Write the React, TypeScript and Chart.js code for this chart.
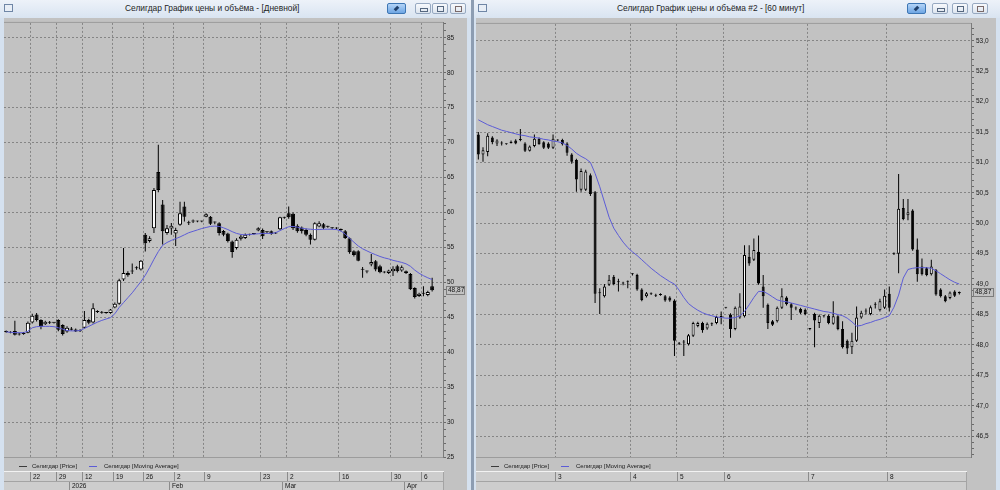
import React, { useEffect, useRef } from 'react';
import { Chart, registerables } from 'chart.js';

Chart.register(...registerables);

const FONT = '"Liberation Sans", Arial, "DejaVu Sans", sans-serif';
const MA_COLOR = '#5c5cd6';
const GRID_COLOR = '#858585';
const BG = '#c2c2c2';

// ---------- Daily chart ("Дневной") ----------
const dOpen = [42.9, 42.85, 43.05, 42.6, 42.6, 42.8, 44.25, 45.4, 44.6, 44.0, 44.2, 44.25, 44.6, 43.9, 42.97, 43.4, 43.25, 43.0, 43.5, 44.6, 44.25, 45.8, 45.7, 45.65, 45.6, 46.4, 46.95, 50.4, 51.35, 51.55, 52.0, 51.85, 56.8, 55.9, 57.75, 65.8, 61.15, 57.05, 57.7, 57.0, 58.25, 60.85, 58.45, 58.7, 58.75, 58.7, 59.4, 59.4, 58.6, 58.45, 57.35, 57.0, 55.85, 54.9, 56.25, 56.35, 56.8, 56.9, 57.4, 57.5, 57.2, 57.3, 57.0, 57.6, 59.3, 59.9, 59.8, 58.1, 57.85, 57.5, 56.8, 56.1, 58.0, 58.3, 58.0, 57.8, 57.75, 57.55, 57.3, 56.3, 54.45, 54.45, 51.8, 51.6, 52.55, 53.0, 52.3, 51.45, 51.35, 51.6, 52.3, 51.7, 51.6, 51.2, 49.2, 48.05, 48.35, 48.2, 49.45];
const dHigh = [43.1, 43.0, 44.5, 42.8, 42.9, 44.4, 45.5, 45.6, 44.7, 44.5, 44.45, 44.3, 44.7, 44.0, 43.7, 43.6, 43.4, 43.3, 45.9, 44.8, 47.0, 46.0, 45.9, 45.7, 46.2, 47.1, 50.5, 54.9, 51.6, 52.7, 52.3, 53.2, 57.05, 56.6, 63.5, 69.7, 61.8, 58.2, 58.5, 57.8, 61.55, 61.55, 58.8, 59.0, 58.8, 58.8, 59.9, 59.5, 58.7, 58.6, 57.5, 57.1, 56.0, 56.3, 56.8, 57.0, 56.95, 57.0, 57.9, 57.7, 57.3, 57.4, 57.2, 59.4, 59.4, 60.85, 60.0, 58.3, 58.0, 57.7, 57.0, 58.6, 58.75, 58.5, 58.1, 57.9, 57.9, 57.7, 57.5, 56.4, 54.6, 54.6, 52.2, 51.7, 54.05, 53.2, 52.5, 51.6, 51.8, 52.3, 52.5, 52.4, 51.7, 51.35, 49.3, 48.5, 49.45, 48.8, 50.65];
const dLow = [42.8, 42.7, 42.4, 42.4, 42.5, 42.7, 44.1, 44.4, 43.3, 43.9, 44.05, 44.1, 43.0, 42.4, 42.8, 43.1, 42.9, 42.9, 43.4, 44.0, 44.1, 45.6, 45.5, 45.5, 45.5, 46.3, 46.8, 50.2, 50.8, 51.2, 51.8, 51.7, 54.4, 55.7, 57.05, 62.9, 55.4, 56.8, 56.8, 55.2, 58.1, 58.7, 58.2, 58.5, 58.6, 58.6, 59.3, 58.2, 58.3, 56.7, 56.6, 55.7, 53.5, 54.7, 56.0, 56.2, 56.7, 56.8, 57.3, 56.2, 57.0, 56.8, 56.9, 57.5, 59.1, 59.1, 57.5, 57.1, 57.0, 56.6, 55.4, 56.0, 57.9, 57.6, 57.8, 57.6, 57.6, 57.3, 56.2, 54.1, 53.7, 53.0, 50.65, 51.3, 52.3, 51.6, 51.3, 51.3, 51.2, 50.9, 51.4, 51.5, 51.2, 48.9, 47.7, 47.9, 48.0, 48.0, 48.7];
const dClose = [43.0, 42.8, 42.5, 42.55, 42.7, 44.2, 45.2, 44.6, 43.65, 44.35, 44.25, 44.2, 43.2, 42.6, 43.5, 43.2, 42.97, 43.1, 44.6, 44.2, 46.3, 45.75, 45.65, 45.6, 46.1, 46.95, 50.3, 51.35, 51.0, 51.6, 52.05, 53.1, 55.6, 56.3, 63.2, 63.2, 57.3, 57.75, 58.1, 57.5, 59.9, 59.4, 58.5, 58.75, 58.7, 58.7, 59.75, 58.4, 58.55, 57.05, 56.8, 55.9, 54.35, 56.1, 56.55, 56.8, 56.85, 56.95, 57.75, 56.6, 57.15, 56.9, 57.05, 59.3, 59.25, 59.3, 57.75, 57.3, 57.3, 56.8, 56.1, 58.45, 58.45, 57.8, 57.95, 57.75, 57.7, 57.5, 56.35, 54.3, 53.9, 53.1, 51.85, 51.55, 52.9, 51.85, 51.45, 51.4, 51.7, 51.95, 51.6, 52.15, 51.35, 49.0, 47.9, 48.35, 48.4, 48.6, 48.87];
const dMA = [42.9, 42.85, 42.8, 42.8, 42.8, 43.0, 43.5, 43.65, 43.7, 43.7, 43.7, 43.65, 43.5, 43.3, 43.1, 43.05, 43.05, 43.1, 43.4, 43.7, 44.0, 44.3, 44.55, 44.75, 44.95, 45.5, 46.4, 47.1, 47.8, 48.5, 49.3, 50.1, 51.0, 52.1, 53.3, 54.4, 55.3, 55.7, 56.0, 56.25, 56.5, 56.8, 57.1, 57.3, 57.5, 57.7, 57.85, 58.0, 58.05, 58.0, 57.8, 57.55, 57.25, 57.0, 56.85, 56.8, 56.85, 56.9, 56.95, 57.0, 57.0, 57.0, 57.1, 57.4, 57.7, 57.95, 58.0, 57.9, 57.75, 57.65, 57.6, 57.55, 57.55, 57.6, 57.6, 57.6, 57.55, 57.35, 56.9, 56.3, 55.75, 55.2, 54.8, 54.5, 54.2, 53.95, 53.7, 53.5, 53.35, 53.15, 53.0, 52.85, 52.65, 52.3, 51.75, 51.3, 50.95, 50.65, 50.4];
const dWeekIdx = [6, 12, 18, 25, 32, 39, 46, 59, 65, 77, 89, 96];
const dWeekLabels = ['22', '29', '12', '19', '26', '2', '9', '23', '2', '16', '30', '6'];
const dMonthIdx = [15, 38, 64, 92];
const dMonthLabels = ['2026', 'Feb', 'Mar', 'Apr'];

// ---------- Hourly chart ("60 минут") ----------
const hOpen = [51.46, 51.13, 51.17, 51.41, 51.31, 51.32, 51.3, 51.32, 51.36, 51.37, 51.31, 51.19, 51.27, 51.39, 51.33, 51.31, 51.24, 51.37, 51.37, 51.31, 51.13, 51.04, 50.55, 50.55, 50.79, 50.51, 48.85, 48.8, 48.99, 49.12, 49.03, 49.01, 49.04, 49.16, 49.15, 48.91, 48.8, 48.84, 48.82, 48.83, 48.8, 48.78, 48.73, 48.02, 48.04, 48.01, 48.15, 48.31, 48.36, 48.27, 48.34, 48.36, 48.46, 48.61, 48.5, 48.26, 48.45, 48.47, 49.45, 49.4, 49.53, 48.96, 48.66, 48.39, 48.39, 48.61, 48.78, 48.67, 48.6, 48.59, 48.58, 48.26, 48.51, 48.36, 48.47, 48.48, 48.35, 48.47, 48.26, 48.07, 47.96, 48.07, 48.45, 48.55, 48.51, 48.66, 48.57, 48.61, 48.84, 49.5, 49.5, 50.25, 50.13, 50.21, 49.57, 49.29, 49.26, 49.16, 49.23, 48.91, 48.8, 48.77, 48.88, 48.85];
const hHigh = [51.5, 51.25, 51.48, 51.43, 51.38, 51.35, 51.31, 51.36, 51.38, 51.55, 51.33, 51.28, 51.46, 51.41, 51.35, 51.33, 51.46, 51.38, 51.39, 51.33, 51.15, 51.06, 50.9, 50.88, 50.82, 50.53, 48.93, 49.0, 49.15, 49.15, 49.09, 49.04, 49.06, 49.18, 49.17, 48.93, 48.87, 48.86, 48.84, 48.85, 48.82, 48.8, 48.75, 48.05, 48.08, 48.18, 48.38, 48.38, 48.38, 48.37, 48.37, 48.48, 48.55, 48.62, 48.52, 48.63, 48.85, 49.64, 49.64, 49.75, 49.8, 49.15, 48.68, 48.41, 48.63, 48.93, 48.8, 48.69, 48.63, 48.61, 48.6, 48.28, 48.53, 48.5, 48.49, 48.5, 48.72, 48.49, 48.39, 48.09, 48.2, 48.63, 48.56, 48.6, 48.65, 48.7, 48.76, 48.91, 48.96, 49.52, 50.81, 50.4, 50.4, 50.23, 49.75, 49.42, 49.28, 49.4, 49.25, 48.93, 48.82, 48.88, 48.9, 48.88];
const hLow = [51.05, 51.01, 51.1, 51.3, 51.27, 51.28, 51.29, 51.31, 51.3, 51.35, 51.17, 51.18, 51.25, 51.29, 51.22, 51.22, 51.22, 51.35, 51.28, 51.11, 50.98, 50.52, 50.52, 50.53, 50.45, 48.69, 48.51, 48.78, 48.97, 48.98, 48.88, 48.98, 48.93, 49.14, 48.89, 48.72, 48.78, 48.82, 48.79, 48.81, 48.71, 48.71, 47.82, 48.0, 47.82, 47.99, 48.13, 48.29, 48.2, 48.25, 48.31, 48.34, 48.34, 48.6, 48.12, 48.24, 48.43, 48.45, 49.3, 49.38, 48.99, 48.61, 48.26, 48.31, 48.37, 48.59, 48.65, 48.41, 48.57, 48.51, 48.49, 48.24, 47.96, 48.28, 48.45, 48.34, 48.33, 48.24, 47.94, 47.85, 47.85, 48.05, 48.43, 48.5, 48.49, 48.6, 48.55, 48.59, 48.55, 49.48, 49.18, 50.05, 50.05, 49.55, 49.04, 49.14, 49.13, 49.14, 48.81, 48.78, 48.7, 48.75, 48.79, 48.83];
const hClose = [51.13, 51.2, 51.44, 51.33, 51.36, 51.31, 51.3, 51.34, 51.31, 51.38, 51.19, 51.26, 51.39, 51.3, 51.24, 51.24, 51.39, 51.36, 51.3, 51.16, 51.01, 50.72, 50.86, 50.85, 50.48, 48.84, 48.86, 48.96, 49.07, 49.0, 49.03, 49.02, 49.05, 49.16, 48.91, 48.74, 48.85, 48.84, 48.81, 48.82, 48.73, 48.73, 48.07, 48.03, 48.04, 48.16, 48.36, 48.36, 48.24, 48.35, 48.34, 48.46, 48.46, 48.61, 48.26, 48.61, 48.63, 49.48, 49.34, 49.56, 49.01, 48.8, 48.36, 48.33, 48.61, 48.8, 48.67, 48.61, 48.6, 48.53, 48.51, 48.26, 48.4, 48.48, 48.47, 48.36, 48.47, 48.26, 47.96, 47.94, 48.07, 48.45, 48.53, 48.55, 48.62, 48.66, 48.72, 48.81, 48.61, 49.5, 50.24, 50.07, 50.18, 49.57, 49.16, 49.16, 49.15, 49.29, 48.83, 48.8, 48.72, 48.86, 48.81, 48.87];
const hMA = [51.7, 51.66, 51.62, 51.59, 51.56, 51.53, 51.51, 51.49, 51.47, 51.45, 51.44, 51.42, 51.41, 51.4, 51.38, 51.37, 51.35, 51.34, 51.32, 51.28, 51.22, 51.15, 51.1, 51.06, 51.0, 50.82, 50.6, 50.35, 50.1, 49.92, 49.8, 49.69, 49.6, 49.53, 49.47, 49.4, 49.33, 49.26, 49.2, 49.14, 49.09, 49.04, 49.0, 48.9, 48.78, 48.68, 48.62, 48.57, 48.53, 48.5, 48.48, 48.46, 48.45, 48.44, 48.44, 48.45, 48.48, 48.55, 48.66, 48.78, 48.88, 48.88, 48.84, 48.79, 48.74, 48.72, 48.71, 48.69, 48.67, 48.65, 48.63, 48.61, 48.59, 48.57, 48.55, 48.54, 48.52, 48.5, 48.48, 48.44, 48.38, 48.31, 48.32, 48.35, 48.37, 48.4, 48.42, 48.45, 48.48, 48.62, 48.82, 49.1, 49.24, 49.26, 49.27, 49.27, 49.27, 49.26, 49.22, 49.17, 49.12, 49.07, 49.03, 49.0];
const hDayIdx = [17, 33, 43, 53, 71, 88];
const hDayLabels = ['3', '4', '5', '6', '7', '8'];

type PanelProps = {
  width: number;
  height: number;
  slots: number;
  open: number[];
  high: number[];
  low: number[];
  close: number[];
  ma: number[];
  yMin: number;
  yMax: number;
  minorStep: number;
  majorStep: number;
  decimals: number;
  axisWidth: number;
  labelPad: number;
  bodyWidth: number;
  row1Idx: number[];
  row1Labels: string[];
  row2Idx: number[];
  row2Labels: string[];
  boxX: number;
  boxW: number;
  rowsRight: number;
};

function CandlePanel(p: PanelProps) {
  const ref = useRef<HTMLCanvasElement | null>(null);
  useEffect(() => {
    const canvas = ref.current;
    if (!canvas) return;
    const labels = Array.from({ length: p.slots }, (_, i) => String(i));
    const wick = p.high.map((h, i) => [p.low[i], h]);
    const body = p.open.map((o, i) => [o, p.close[i]]);
    const bodyColors = p.open.map((o, i) => (p.close[i] >= o ? '#ffffff' : '#000000'));
    const gridIdx = new Set(p.row1Idx);
    const isMajor = (v: number) => Math.abs(v / p.majorStep - Math.round(v / p.majorStep)) < 1e-6;
    const fmt = (v: number, d: number) => v.toFixed(d).replace('.', ',');
    const smallFont = `6.5px ${FONT}`;

    const stripPlugin = {
      id: 'strip',
      afterDraw(chart: any) {
        const { ctx, chartArea: a, scales } = chart;
        const xs = scales.x;
        const ys = scales.y;
        const slot = xs.getPixelForValue(1) - xs.getPixelForValue(0);
        const rr = a.right - p.rowsRight;
        ctx.save();
        ctx.fillStyle = '#9c9c9c';
        ctx.fillRect(a.left, a.top - 1, a.right - a.left, 1);
        ctx.fillRect(a.left, a.bottom, a.right - a.left, 1);

        // legend
        const ly = a.bottom + 9.5;
        ctx.font = `6px ${FONT}`;
        ctx.textBaseline = 'middle';
        ctx.textAlign = 'left';
        ctx.fillStyle = '#3c3c3c';
        ctx.fillRect(15, Math.floor(ly), 8, 1);
        ctx.fillStyle = '#1a1a1a';
        ctx.fillText('Селигдар [Price]', 28, ly);
        ctx.fillStyle = MA_COLOR;
        ctx.fillRect(85, Math.floor(ly), 8, 1);
        ctx.fillStyle = '#1a1a1a';
        ctx.fillText('Селигдар [Moving Average]', 100, ly);

        // date rows
        const top1 = a.bottom + 15;
        const top2 = a.bottom + 24;
        const bottom = chart.height;
        ctx.fillStyle = '#cdcdcd';
        ctx.fillRect(0, top1, rr, bottom - top1);
        ctx.fillStyle = '#f2f2f2';
        ctx.fillRect(0, top1 - 1, rr + 1, 1);
        ctx.fillStyle = '#a4a4a4';
        ctx.fillRect(0, top2, rr, 1);
        ctx.fillRect(rr, top1, 1, bottom - top1);
        ctx.font = smallFont;
        p.row1Idx.forEach((idx, k) => {
          const x = Math.round(xs.getPixelForValue(idx) - slot / 2);
          ctx.fillStyle = '#8c8c8c';
          ctx.fillRect(x, top1, 1, top2 - top1);
          ctx.fillStyle = '#141414';
          ctx.fillText(p.row1Labels[k], x + 3, (top1 + top2) / 2 + 0.5);
        });
        p.row2Idx.forEach((idx, k) => {
          const x = Math.round(xs.getPixelForValue(idx) - slot / 2);
          ctx.fillStyle = '#8c8c8c';
          ctx.fillRect(x, top2 + 1, 1, bottom - top2 - 1);
          ctx.fillStyle = '#141414';
          ctx.fillText(p.row2Labels[k], x + 3, (top2 + bottom) / 2 + 0.5);
        });

        // last price box
        const lc = p.close[p.close.length - 1];
        const yy = Math.round(ys.getPixelForValue(lc));
        const bx = a.right + p.boxX;
        ctx.fillStyle = BG;
        ctx.fillRect(bx, yy - 4, p.boxW, 9);
        ctx.strokeStyle = '#7c7c7c';
        ctx.lineWidth = 1;
        ctx.strokeRect(bx + 0.5, yy - 3.5, p.boxW - 1, 8);
        ctx.fillStyle = '#141414';
        ctx.font = smallFont;
        ctx.fillText(fmt(lc, 2), bx + 2, yy + 0.5);
        ctx.restore();
      },
    };

    const chart = new Chart(canvas, {
      type: 'bar',
      data: {
        labels,
        datasets: [
          {
            type: 'line',
            label: 'Селигдар [Moving Average]',
            data: p.ma,
            borderColor: MA_COLOR,
            borderWidth: 1,
            pointRadius: 0,
            fill: false,
            tension: 0,
            order: 0,
          } as any,
          {
            type: 'bar',
            label: 'body',
            data: body,
            backgroundColor: bodyColors,
            borderColor: '#000000',
            borderWidth: 1,
            borderSkipped: false,
            barThickness: p.bodyWidth,
            minBarLength: 1,
            grouped: false,
            inflateAmount: 0,
            order: 1,
          } as any,
          {
            type: 'bar',
            label: 'Селигдар [Price]',
            data: wick,
            backgroundColor: '#000000',
            borderWidth: 0,
            barThickness: 1,
            grouped: false,
            inflateAmount: 0,
            order: 2,
          } as any,
        ],
      },
      options: {
        responsive: false,
        animation: false,
        devicePixelRatio: 1,
        events: [],
        layout: { padding: { top: 2, left: 0, right: 0, bottom: 0 } },
        plugins: { legend: { display: false }, tooltip: { enabled: false } },
        scales: {
          x: {
            type: 'category',
            offset: true,
            grid: {
              offset: true,
              drawTicks: false,
              lineWidth: 1,
              color: (c: any) => (gridIdx.has(c.index) ? GRID_COLOR : 'rgba(0,0,0,0)'),
            },
            border: { display: false, dash: [2, 2] },
            ticks: { display: false, autoSkip: false },
            afterFit: (s: any) => {
              s.height = 33;
            },
          },
          y: {
            type: 'linear',
            position: 'right',
            min: p.yMin,
            max: p.yMax,
            ticks: {
              stepSize: p.minorStep,
              includeBounds: false,
              autoSkip: false,
              padding: p.labelPad,
              color: '#1a1a1a',
              font: { family: FONT, size: 6.5 },
              callback: (v: any) => (isMajor(Number(v)) ? fmt(Number(v), p.decimals) : ''),
            },
            grid: {
              lineWidth: 1,
              drawTicks: true,
              tickLength: 3,
              tickColor: '#6a6a6a',
              color: (c: any) => (c.tick && isMajor(c.tick.value) ? GRID_COLOR : 'rgba(0,0,0,0)'),
            },
            border: { display: true, color: '#7a7a7a', dash: [2, 2] },
            afterFit: (s: any) => {
              s.width = p.axisWidth;
            },
          },
        },
      } as any,
      plugins: [stripPlugin],
    });
    return () => chart.destroy();
  }, []);
  return (
    <canvas
      ref={ref}
      width={p.width}
      height={p.height}
      style={{ display: 'block', width: p.width, height: p.height }}
    />
  );
}

function TitleButton({ left, blue, kind }: { left: number; blue?: boolean; kind: string }) {
  const w = blue ? 19 : 16;
  return (
    <div
      style={{
        position: 'absolute',
        left,
        top: 3,
        width: w,
        height: 11,
        boxSizing: 'border-box',
        border: blue ? '1px solid #3d76b4' : '1px solid #97a9c1',
        borderRadius: 2,
        background: blue
          ? 'linear-gradient(#b4d4f7, #6ea6e4)'
          : 'linear-gradient(#f7f9fc, #dde5ef)',
      }}
    >
      {kind === 'pin' && (
        <div style={{ position: 'absolute', left: 7, top: 2, width: 3, height: 5, background: '#1f3f6a', transform: 'rotate(45deg)' }} />
      )}
      {kind === 'min' && (
        <div style={{ position: 'absolute', left: 4, top: 4, width: 6, height: 2, border: '1px solid #55677f' }} />
      )}
      {kind === 'max' && (
        <div style={{ position: 'absolute', left: 4, top: 2, width: 5, height: 4, border: '1px solid #55677f' }} />
      )}
      {kind === 'close' && (
        <div style={{ position: 'absolute', left: 4, top: 2, width: 5, height: 4, border: '1px solid #7a6a6a' }} />
      )}
    </div>
  );
}

function Window(props: {
  left: number;
  width: number;
  title: string;
  titleLeft: number;
  btnLeft: number[];
  contentLeft: number;
  children: any;
}) {
  return (
    <div
      style={{
        position: 'absolute',
        left: props.left,
        top: 0,
        width: props.width,
        height: 490,
        background: '#d5e1ef',
        overflow: 'hidden',
      }}
    >
      <div
        style={{
          position: 'absolute',
          left: 0,
          top: 0,
          right: 0,
          height: 18,
          background: 'linear-gradient(#edf2f9, #d9e4f1)',
        }}
      >
        <div
          style={{
            position: 'absolute',
            left: 4,
            top: 4,
            width: 9,
            height: 8,
            boxSizing: 'border-box',
            border: '1px solid #6f86a6',
            background: '#e8eef6',
          }}
        />
        <div
          style={{
            position: 'absolute',
            left: props.titleLeft,
            top: 3,
            fontFamily: FONT,
            fontSize: 8.4,
            lineHeight: '11px',
            color: '#1e1e1e',
            whiteSpace: 'nowrap',
          }}
        >
          {props.title}
        </div>
        <TitleButton left={props.btnLeft[0]} blue kind="pin" />
        <TitleButton left={props.btnLeft[1]} kind="min" />
        <TitleButton left={props.btnLeft[2]} kind="max" />
        <TitleButton left={props.btnLeft[3]} kind="close" />
      </div>
      <div
        style={{
          position: 'absolute',
          left: props.contentLeft,
          top: 18,
          background: BG,
        }}
      >
        {props.children}
      </div>
    </div>
  );
}

export default function App() {
  return (
    <div
      style={{
        position: 'fixed',
        left: 0,
        top: 0,
        width: 1000,
        height: 490,
        background: '#8d9db2',
        overflow: 'hidden',
      }}
    >
      <Window
        left={0}
        width={471}
        title="Селигдар График цены и объёма - [Дневной]"
        titleLeft={125}
        btnLeft={[387, 415, 432, 450]}
        contentLeft={4}
      >
        <CandlePanel
          width={463}
          height={472}
          slots={101}
          open={dOpen}
          high={dHigh}
          low={dLow}
          close={dClose}
          ma={dMA}
          yMin={25}
          yMax={87.13}
          minorStep={1}
          majorStep={5}
          decimals={0}
          axisWidth={24}
          labelPad={1}
          bodyWidth={4}
          row1Idx={dWeekIdx}
          row1Labels={dWeekLabels}
          row2Idx={dMonthIdx}
          row2Labels={dMonthLabels}
          boxX={3}
          boxW={19}
          rowsRight={0}
        />
      </Window>
      <Window
        left={474}
        width={526}
        title="Селигдар График цены и объёма #2 - [60 минут]"
        titleLeft={143}
        btnLeft={[433, 458, 478, 498]}
        contentLeft={2}
      >
        <CandlePanel
          width={520}
          height={472}
          slots={106}
          open={hOpen}
          high={hHigh}
          low={hLow}
          close={hClose}
          ma={hMA}
          yMin={46.158}
          yMax={53.277}
          minorStep={0.1}
          majorStep={0.5}
          decimals={1}
          axisWidth={25}
          labelPad={2}
          bodyWidth={3}
          row1Idx={hDayIdx}
          row1Labels={hDayLabels}
          row2Idx={[]}
          row2Labels={[]}
          boxX={2}
          boxW={21}
          rowsRight={5}
        />
      </Window>
    </div>
  );
}
